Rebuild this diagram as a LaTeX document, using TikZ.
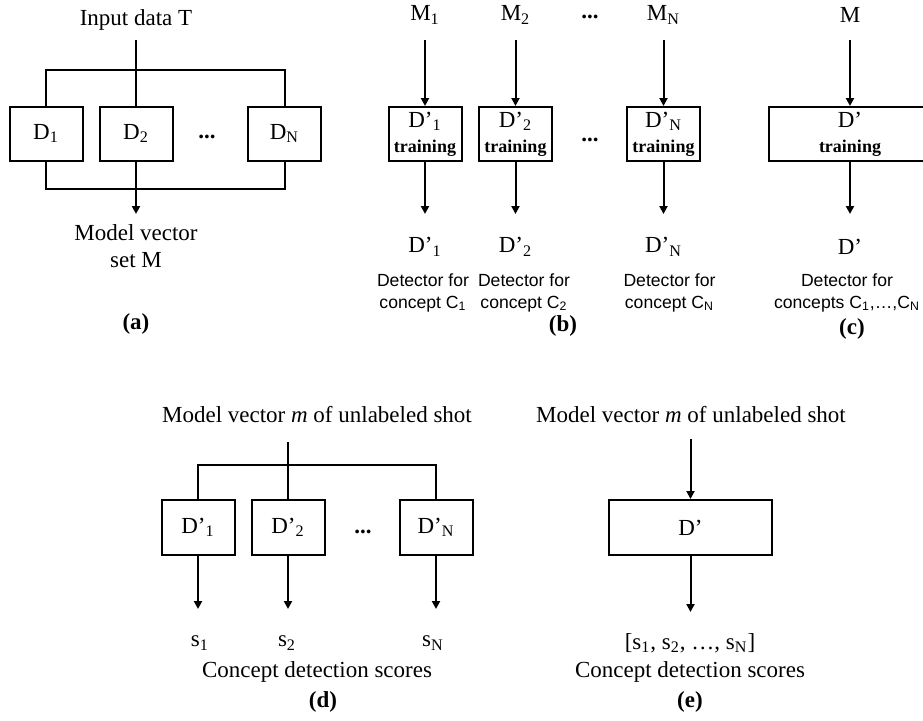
\documentclass[tikz,border=0pt]{standalone}
\usepackage{fontspec}
\setmainfont{Liberation Serif}
\setsansfont{Liberation Sans}
\usetikzlibrary{arrows.meta}

\tikzset{
  lbl/.style={font=\fontsize{11.5}{13.5}\selectfont, inner sep=0pt, align=center},
  det/.style={font=\sffamily\fontsize{8.8}{11}\selectfont, inner sep=0pt, align=center},
  panel/.style={font=\bfseries\fontsize{11.5}{13.5}\selectfont, inner sep=0pt},
  dotsym/.style={font=\bfseries\fontsize{11.5}{13.5}\selectfont, inner sep=0pt},
  box/.style={draw, line width=1pt, minimum width=36.5pt, minimum height=27pt,
    inner sep=0pt, align=center, font=\fontsize{11.5}{12.5}\selectfont},
  widebox/.style={box, minimum width=81.5pt},
  line/.style={line width=1pt},
  arr/.style={line width=1pt, -{Triangle[length=4pt,width=4pt]}}
}
\newcommand{\trn}{\bfseries\fontsize{9}{12.5}\selectfont}

\begin{document}
\begin{tikzpicture}[x=0.5pt,y=-0.5pt]
  \clip (0,0) rectangle (923,720);

  % (a) detectors D_1..D_N on input data T
  \node[lbl] (inT) at (136,20) {Input data T};
  \coordinate (aIn) at (136,40);
  \coordinate (aSplit) at (136,70);
  \node[box] (d1) at (46,133.5) {D\textsubscript{1}};
  \node[box] (d2) at (136,133.5) {D\textsubscript{2}};
  \node[dotsym] (aDots) at (207,137) {...};
  \node[box] (dN) at (284.5,133.5) {D\textsubscript{N}};
  \coordinate (aJoin) at (136,189);
  \coordinate (aOut) at (136,214);
  \draw[line] (aIn) -- (d2.north);
  \draw[line] (d1.north) |- (aSplit) -| (dN.north);
  \draw[line] (d1.south) |- (aJoin) -| (dN.south);
  \draw[arr] (d2.south) -- (aOut);
  \node[lbl] (aRes) at (136,246.5) {Model vector\\set M};
  \node[panel] (aLab) at (136,324) {(a)};

  % (b) one detector per concept
  \node[lbl] (m1) at (425,15) {M\textsubscript{1}};
  \node[lbl] (m2) at (515.5,15) {M\textsubscript{2}};
  \node[dotsym] (bDotsTop) at (590,17) {...};
  \node[lbl] (mN) at (663.5,15) {M\textsubscript{N}};
  \coordinate (m1in) at (425,40);
  \coordinate (m2in) at (515.5,40);
  \coordinate (mNin) at (663.5,40);
  \node[box] (t1) at (425,134) {D’\textsubscript{1}\\\trn training};
  \node[box] (t2) at (515.5,134) {D’\textsubscript{2}\\\trn training};
  \node[dotsym] (bDots) at (590,140) {...};
  \node[box] (tN) at (663.5,134) {D’\textsubscript{N}\\\trn training};
  \coordinate (t1out) at (425,214);
  \coordinate (t2out) at (515.5,214);
  \coordinate (tNout) at (663.5,214);
  \draw[arr] (m1in) -- (t1.north);
  \draw[arr] (m2in) -- (t2.north);
  \draw[arr] (mNin) -- (tN.north);
  \draw[arr] (t1.south) -- (t1out);
  \draw[arr] (t2.south) -- (t2out);
  \draw[arr] (tN.south) -- (tNout);
  \node[lbl] (r1) at (425,247) {D’\textsubscript{1}};
  \node[lbl] (r2) at (515.5,247) {D’\textsubscript{2}};
  \node[lbl] (rN) at (663.5,247) {D’\textsubscript{N}};
  \node[det] (c1) at (423,293) {Detector for\\concept C\textsubscript{1}};
  \node[det] (c2) at (524,293) {Detector for\\concept C\textsubscript{2}};
  \node[det] (cN) at (669.5,293) {Detector for\\concept C\textsubscript{N}};
  \node[panel] (bLab) at (563,326) {(b)};

  % (c) one detector for all concepts
  \node[lbl] (mAll) at (850,15) {M};
  \coordinate (mAllin) at (850,40);
  \node[widebox] (tAll) at (850,134) {D’\\\trn training};
  \coordinate (tAllout) at (850,214);
  \draw[arr] (mAllin) -- (tAll.north);
  \draw[arr] (tAll.south) -- (tAllout);
  \node[lbl] (rAll) at (850,247) {D’};
  \node[det] (cAll) at (847,293) {Detector for\\concepts C\textsubscript{1},…,C\textsubscript{N}};
  \node[panel] (cLab) at (852,329) {(c)};

  % (d) scoring with N detectors
  \node[lbl] (dTitle) at (317,415) {Model vector \textit{m} of unlabeled shot};
  \coordinate (dIn) at (288,442);
  \coordinate (dSplit) at (288,465);
  \node[box,minimum height=27.5pt] (e1) at (198,527.5) {D’\textsubscript{1}};
  \node[box,minimum height=27.5pt] (e2) at (288,527.5) {D’\textsubscript{2}};
  \node[dotsym] (dDots) at (363,532) {...};
  \node[box,minimum height=27.5pt] (eN) at (436,527.5) {D’\textsubscript{N}};
  \coordinate (e1out) at (198,609);
  \coordinate (e2out) at (288,609);
  \coordinate (eNout) at (436,609);
  \draw[line] (dIn) -- (e2.north);
  \draw[line] (e1.north) |- (dSplit) -| (eN.north);
  \draw[arr] (e1.south) -- (e1out);
  \draw[arr] (e2.south) -- (e2out);
  \draw[arr] (eN.south) -- (eNout);
  \node[lbl] (s1) at (200,643) {s\textsubscript{1}};
  \node[lbl] (s2) at (287,643) {s\textsubscript{2}};
  \node[lbl] (sN) at (433,643) {s\textsubscript{N}};
  \node[lbl] (dRes) at (317,672) {Concept detection scores};
  \node[panel] (dLab) at (323,702) {(d)};

  % (e) scoring with one detector
  \node[lbl] (eTitle) at (691,415) {Model vector \textit{m} of unlabeled shot};
  \coordinate (eIn) at (690.5,439);
  \node[widebox,minimum height=27.5pt] (eAll) at (690.5,527.5) {D’};
  \coordinate (eAllout) at (690.5,612);
  \draw[arr] (eIn) -- (eAll.north);
  \draw[arr] (eAll.south) -- (eAllout);
  \node[lbl] (sAll) at (690,643) {[s\textsubscript{1}, s\textsubscript{2}, …, s\textsubscript{N}]};
  \node[lbl] (eRes) at (690,672) {Concept detection scores};
  \node[panel] (eLab) at (690,702) {(e)};
\end{tikzpicture}
\end{document}
